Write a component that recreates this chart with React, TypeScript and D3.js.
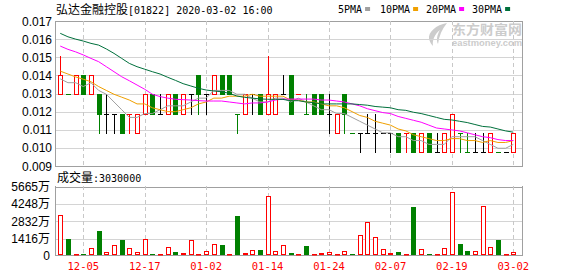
import React from 'react';
import * as d3 from 'd3';

const dates = ['12-02','12-03','12-04','12-05','12-06','12-09','12-10','12-11','12-12','12-13','12-16','12-17','12-18','12-19','12-20','12-23','12-24','12-27','12-30','01-02','01-03','01-06','01-07','01-08','01-09','01-10','01-13','01-14','01-15','01-16','01-17','01-20','01-21','01-22','01-23','01-24','01-29','01-30','01-31','02-03','02-04','02-05','02-06','02-07','02-10','02-11','02-12','02-13','02-14','02-17','02-18','02-19','02-20','02-21','02-24','02-25','02-26','02-27','02-28','03-02'];

const opens = [0.013,0.013,0.013,0.014,0.013,0.013,0.012,0.012,0.012,0.012,0.011,0.012,0.013,0.012,0.012,0.013,0.012,0.013,0.014,0.013,0.013,0.014,0.014,0.012,0.012,0.013,0.013,0.012,0.012,0.013,0.014,0.013,0.012,0.013,0.013,0.012,0.011,0.013,0.011,0.011,0.011,0.011,0.011,0.011,0.011,0.011,0.011,0.010,0.011,0.010,0.010,0.010,0.011,0.010,0.010,0.010,0.010,0.010,0.010,0.010];
const highs = [0.015,0.013,0.014,0.014,0.014,0.013,0.013,0.012,0.012,0.012,0.012,0.013,0.013,0.013,0.013,0.013,0.013,0.013,0.014,0.013,0.014,0.014,0.014,0.012,0.013,0.013,0.013,0.015,0.013,0.014,0.014,0.013,0.013,0.013,0.013,0.013,0.012,0.013,0.011,0.011,0.012,0.012,0.011,0.011,0.011,0.011,0.011,0.011,0.011,0.011,0.011,0.012,0.011,0.011,0.011,0.011,0.011,0.010,0.010,0.011];
const lows = [0.013,0.013,0.013,0.013,0.013,0.011,0.011,0.011,0.011,0.011,0.011,0.012,0.012,0.012,0.012,0.012,0.012,0.012,0.012,0.012,0.013,0.013,0.013,0.011,0.012,0.012,0.012,0.012,0.012,0.013,0.012,0.013,0.012,0.012,0.012,0.011,0.011,0.011,0.011,0.010,0.011,0.010,0.011,0.010,0.010,0.010,0.010,0.010,0.010,0.010,0.010,0.010,0.010,0.010,0.010,0.010,0.010,0.010,0.010,0.010];
const closes = [0.014,0.013,0.014,0.013,0.014,0.012,0.012,0.012,0.011,0.012,0.012,0.013,0.012,0.012,0.013,0.012,0.013,0.013,0.013,0.013,0.014,0.013,0.013,0.012,0.013,0.013,0.012,0.013,0.013,0.013,0.012,0.013,0.012,0.012,0.012,0.012,0.012,0.012,0.011,0.011,0.011,0.011,0.011,0.011,0.010,0.011,0.010,0.011,0.010,0.010,0.011,0.012,0.011,0.010,0.010,0.010,0.011,0.010,0.010,0.011];

// volume in 万 (10,000 shares)
const volumes = [3342,1386,163,82,625,2038,326,897,1304,625,326,1358,163,163,734,353,245,1304,163,408,978,897,82,3260,245,462,489,4890,408,897,245,82,815,163,245,326,82,408,82,1712,2744,1549,571,245,326,163,3994,571,163,82,625,5216,978,408,408,4075,734,1304,163,303];

const ma5 = [0.0138,0.0136,0.0136,0.0134,0.0136,0.0132,0.0130,0.0126,0.0122,0.0118,0.0118,0.0120,0.0120,0.0122,0.0124,0.0124,0.0124,0.0126,0.0128,0.0128,0.0132,0.0132,0.0132,0.0130,0.0130,0.0128,0.0126,0.0126,0.0128,0.0128,0.0126,0.0128,0.0126,0.0124,0.0122,0.0122,0.0120,0.0120,0.0118,0.0116,0.0114,0.0112,0.0110,0.0110,0.0108,0.0108,0.0106,0.0106,0.0104,0.0104,0.0104,0.0108,0.0108,0.0108,0.0108,0.0106,0.0104,0.0102,0.0102,0.0104];
const ma10 = [0.0142,0.01405,0.0139,0.01378,0.01365,0.0134,0.0132,0.0130,0.01285,0.0127,0.0125,0.0125,0.0123,0.0122,0.0121,0.0121,0.0122,0.0123,0.0125,0.0126,0.0128,0.0128,0.0129,0.0129,0.0129,0.0130,0.0129,0.0129,0.0129,0.0129,0.0127,0.0127,0.0126,0.0126,0.0125,0.0124,0.0124,0.0123,0.0121,0.0119,0.0118,0.0116,0.0115,0.0114,0.0112,0.0111,0.0109,0.0108,0.0107,0.0106,0.0106,0.0107,0.0107,0.0106,0.0106,0.0105,0.0106,0.0105,0.0105,0.0106];
const ma20 = [0.0155,0.01533,0.0152,0.01504,0.01486,0.01469,0.01443,0.01417,0.01391,0.0137,0.01348,0.01326,0.0130,0.01288,0.0128,0.01274,0.01272,0.0127,0.01267,0.01265,0.01265,0.01265,0.0126,0.01255,0.0125,0.01255,0.01255,0.0126,0.0127,0.01275,0.01275,0.01275,0.01275,0.01275,0.0127,0.0127,0.01265,0.0126,0.0125,0.0124,0.01225,0.01215,0.01205,0.0120,0.01185,0.01175,0.01165,0.01155,0.0114,0.01125,0.0112,0.01115,0.0111,0.0110,0.0109,0.0108,0.01075,0.01065,0.0106,0.0106];
const ma30 = [0.01616,0.01598,0.01586,0.01576,0.01564,0.01555,0.01535,0.01512,0.01486,0.0146,0.01443,0.0143,0.01417,0.01405,0.01388,0.01372,0.01355,0.01343,0.01331,0.01322,0.01317,0.01313,0.01305,0.01291,0.01284,0.0128,0.01276,0.01274,0.01274,0.012733,0.012667,0.012667,0.0126,0.012567,0.0125,0.0125,0.0125,0.0125,0.0125,0.012467,0.012433,0.012367,0.012333,0.0123,0.0122,0.012167,0.012067,0.0120,0.0119,0.0118,0.0117,0.011667,0.0116,0.011533,0.011433,0.011333,0.0113,0.0112,0.0111,0.011033];

const maNames = ['5PMA', '10PMA', '20PMA', '30PMA'];
const maColors = ['#a0a0a0', '#f0a000', '#ff00ff', '#00703c'];

const priceTickLabels = ['0.017','0.016','0.015','0.014','0.013','0.012','0.011','0.010','0.009'];
const volTickValues = [5665, 4248, 2832, 1416, 0];
const volTickLabels = ['5665万', '4248万', '2832万', '1416万', '0'];
const xTickLabels = ['12-05','12-17','01-02','01-14','01-24','02-07','02-19','03-02'];

const stockName = '弘达金融控股';
const stockInfo = '[01822] 2020-03-02 16:00';

const RED = '#ff0000';
const GREEN = '#008000';
const BLACK = '#000000';
const FRAME = '#a0a0a0';
const GRID = '#d4d4d4';
const MONO = '"DejaVu Sans Mono", monospace';
const CJK = '"Noto Sans CJK SC", sans-serif';
const SANS = '"Liberation Sans", Arial, "Noto Sans CJK SC", sans-serif';

const W = 578, H = 276;
const X0 = 55, X1 = 522;
const PT = 21, PB = 166;
const VT = 186, VB = 255;

export default function App() {
  const n = dates.length;
  const x = d3.scaleLinear().domain([0, n - 1]).range([60.26, 513.3]);
  const yP = d3.scaleLinear().domain([0.00928, 0.0168]).range([PB, PT]);
  const yV = d3.scaleLinear().domain([0, 5665]).range([256, 186.5]);
  const [pMin, pMax] = yP.domain();
  const priceGrid = priceTickLabels.map((_, k) => pMax - (k * (pMax - pMin)) / (priceTickLabels.length - 1));
  const xTicks = xTickLabels.map((l) => dates.indexOf(l));

  const candleColor = (i: number) => {
    if (closes[i] > opens[i]) return RED;
    if (closes[i] < opens[i]) return GREEN;
    if (i === 0) return BLACK;
    if (closes[i] > closes[i - 1]) return RED;
    if (closes[i] < closes[i - 1]) return GREEN;
    return BLACK;
  };
  const volUp = (i: number) => i === 0 || closes[i] >= closes[i - 1];

  const mas = [ma5, ma10, ma20, ma30];
  const line = d3.line<number>().x((_, i) => x(i)).y((v) => yP(v));

  return (
    <svg width={W} height={H} style={{ position: 'absolute', left: 0, top: 0, background: '#fff' }}>
      <rect x={0} y={0} width={W} height={H} fill="#fff" />
      {/* title */}
      <text x={56} y={14} fontSize={12} fill="#000">
        <tspan fontFamily={CJK}>{stockName}</tspan>
        <tspan fontFamily={MONO} fontSize={10}>{stockInfo}</tspan>
      </text>
      {/* legend */}
      {maNames.map((nm, k) => {
        const lx = [338, 380, 426, 472][k];
        const w = nm.length * 6.02;
        return (
          <g key={nm}>
            <text x={lx} y={13} fontFamily={MONO} fontSize={10} fill="#000">{nm}</text>
            <rect x={lx + w + 3} y={7} width={5} height={4} fill={maColors[k]} />
          </g>
        );
      })}
      {/* watermark */}
      <g fill="#cccccc">
        <path d="M447,23 C436,25 428,32 429,39 C430,42 431,44 433,46 C432,40 435,34 440,30 C437,35 436,40 438,44 C439,36 442,29 447,23 Z" />
        <text x={452} y={34} fontFamily={CJK} fontWeight="bold" fontSize={13} textLength={70} lengthAdjust="spacingAndGlyphs">东方财富网</text>
        <text x={452} y={46} fontFamily={SANS} fontWeight="bold" fontSize={8.5} textLength={70} lengthAdjust="spacingAndGlyphs">eastmoney.com</text>
      </g>

      {/* price grid */}
      {priceGrid.map((v, k) => {
        const yy = Math.round(yP(v)) + 0.5;
        return <line key={k} x1={X0} x2={X1} y1={yy} y2={yy} stroke={k === 0 || k === priceGrid.length - 1 ? FRAME : GRID} />;
      })}
      {priceGrid.map((v, k) => (
        <text key={'pl' + k} x={52} y={yP(v) + 4.5} textAnchor="end" fontFamily={SANS} fontSize={12} fill="#000">{priceTickLabels[k]}</text>
      ))}
      {/* volume grid */}
      {volTickValues.map((v, k) => {
        const yy = k === volTickValues.length - 1 ? VB + 0.5 : Math.round(yV(v)) + 0.5;
        return <line key={'vg' + k} x1={X0} x2={X1} y1={yy} y2={yy} stroke={k === 0 || k === volTickValues.length - 1 ? FRAME : GRID} />;
      })}
      {volTickValues.map((v, k) => (
        <text key={'vl' + k} x={50} y={(k === volTickValues.length - 1 ? VB : yV(v)) + 4.5} textAnchor="end" fontFamily={SANS} fontSize={12} fill="#000">{volTickLabels[k]}</text>
      ))}
      {/* dashed verticals */}
      {xTicks.map((i, k) => {
        const xx = Math.round(x(i)) + 0.5;
        return (
          <g key={'xt' + k}>
            <line x1={xx} x2={xx} y1={PT} y2={PB} stroke="#c8c8c8" strokeDasharray="4,3" />
            <line x1={xx} x2={xx} y1={VT} y2={VB} stroke="#c8c8c8" strokeDasharray="4,3" />
            <text x={x(i)} y={270} textAnchor="middle" fontFamily={MONO} fontSize={10.5} fill={RED}>{xTickLabels[k]}</text>
          </g>
        );
      })}
      {/* frames */}
      <line x1={X0 + 0.5} x2={X0 + 0.5} y1={PT} y2={PB + 1} stroke={FRAME} />
      <line x1={X1 + 0.5} x2={X1 + 0.5} y1={PT} y2={PB + 1} stroke={FRAME} />
      <line x1={X0 + 0.5} x2={X0 + 0.5} y1={VT} y2={VB + 1} stroke={FRAME} />
      <line x1={X1 + 0.5} x2={X1 + 0.5} y1={VT} y2={VB + 1} stroke={FRAME} />

      {/* volume header */}
      <text x={57} y={182} fontSize={12} fill="#000">
        <tspan fontFamily={CJK}>成交量</tspan>
        <tspan fontFamily={MONO} fontSize={10}>{':' + String(volumes[n - 1] * 10000)}</tspan>
      </text>

      {/* candles */}
      {dates.map((d, i) => {
        const c = Math.round(x(i));
        const yo = Math.round(yP(opens[i]));
        const yc = Math.round(yP(closes[i]));
        const yh = Math.round(yP(highs[i]));
        const yl = Math.round(yP(lows[i]));
        const col = candleColor(i);
        const top = Math.min(yo, yc);
        const bot = Math.max(yo, yc);
        return (
          <g key={'c' + d}>
            {yh !== yl && <line x1={c + 0.5} x2={c + 0.5} y1={yh} y2={yl + 1} stroke={col} />}
            {closes[i] > opens[i] && (
              <rect x={c - 1.5} y={top + 0.5} width={4} height={bot - top} fill="#fff" stroke={col} />
            )}
            {closes[i] < opens[i] && <rect x={c - 2} y={top} width={5} height={bot - top + 1} fill={col} />}
            {closes[i] === opens[i] && (
              <line x1={c - 2} x2={c + 3} y1={yo + 0.5} y2={yo + 0.5} stroke={col} />
            )}
          </g>
        );
      })}
      {/* moving averages */}
      {mas.map((arr, k) => (
        <path key={'ma' + k} d={line(arr) || ''} fill="none" stroke={maColors[k]} strokeWidth={1} />
      ))}

      {/* volume bars */}
      {dates.map((d, i) => {
        const c = Math.round(x(i));
        const top = Math.round(yV(volumes[i]));
        const up = volUp(i);
        const h = Math.max(1, VB - top);
        return up ? (
          <rect key={'v' + d} x={c - 1.5} y={Math.min(top, VB - 1) + 0.5} width={4} height={Math.max(0.5, h - 1)} fill="#fff" stroke={RED} />
        ) : (
          <rect key={'v' + d} x={c - 2} y={VB - h} width={5} height={h} fill={GREEN} />
        );
      })}
    </svg>
  );
}
